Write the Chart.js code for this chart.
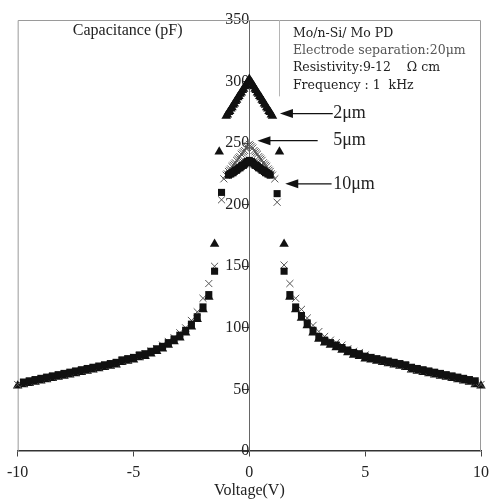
<!DOCTYPE html>
<html><head><meta charset="utf-8">
<script src="https://cdn.jsdelivr.net/npm/chart.js@4.4.0/dist/chart.umd.min.js"></script>
<style>html,body{margin:0;padding:0;background:#fff}</style>
</head><body>
<canvas id="c" width="496" height="502" style="width:496px;height:502px;display:block"></canvas>
<script>
// Voltage grid (V)
const voltage = [
  -10, -9.75, -9.5, -9.25, -9, -8.75, -8.5, -8.25, -8, -7.75, -7.5, -7.25, -7, -6.75, -6.5, -6.25, -6, -5.75, -5.5, -5.25,
  -5, -4.75, -4.5, -4.25, -4, -3.75, -3.5, -3.25, -3, -2.75, -2.5, -2.25, -2, -1.75, -1.5,
  -1.3, -1.2, -1.1,
  -1.0, -0.95, -0.9, -0.85, -0.8, -0.75, -0.7, -0.65, -0.6, -0.55, -0.5, -0.45, -0.4, -0.35, -0.3, -0.25, -0.2, -0.15, -0.1, -0.05,
  0,
  0.05, 0.1, 0.15, 0.2, 0.25, 0.3, 0.35, 0.4, 0.45, 0.5, 0.55, 0.6, 0.65, 0.7, 0.75, 0.8, 0.85, 0.9, 0.95, 1.0,
  1.1, 1.2, 1.3,
  1.5, 1.75, 2, 2.25, 2.5, 2.75, 3, 3.25, 3.5, 3.75, 4, 4.25, 4.5, 4.75, 5, 5.25, 5.5, 5.75, 6, 6.25,
  6.5, 6.75, 7, 7.25, 7.5, 7.75, 8, 8.25, 8.5, 8.75, 9, 9.25, 9.5, 9.75, 10
];
// Capacitance (pF), 2 µm electrodes (triangles)
const cap2um = [
  53, 54, 55, 56, 57, 58, 59, 60, 61, 62, 63, 64, 65, 66, 67, 68, 69, 70, 72, 73,
  74, 76, 77, 79, 81, 83, 86, 89, 92, 96, 101, 107, 115, 125, 168,
  243, null, null,
  272, 273, 275, 276, 278, 279, 281, 282, 284, 285, 287, 288, 290, 291, 293, 294, 296, 297, 299, 300,
  302,
  300, 299, 297, 296, 294, 293, 291, 290, 288, 287, 285, 284, 282, 281, 279, 278, 276, 275, 273, 272,
  null, null, 243,
  168, 125, 115, 108, 102, 96, 91, 88, 86, 84, 82, 80, 78, 77, 75, 74, 73, 72, 71, 70,
  69, 68, 66, 65, 64, 63, 62, 61, 60, 59, 58, 57, 56, 54, 53
];
// Capacitance (pF), 5 µm electrodes (crosses)
const cap5um = [
  54, 55, 56, 57, 58, 59, 60, 61, 62, 63, 64, 65, 66, 67, 68, 69, 70, 71, 73, 74,
  76, 77, 79, 81, 83, 86, 89, 92, 96, 100, 106, 113, 124, 136, 150,
  null, 204, 221,
  224, 225, 227, 228, 229, 231, 232, 233, 234, 236, 237, 238, 239, 241, 242, 243, 244, 246, 247, 248,
  249,
  248, 247, 246, 244, 243, 242, 241, 239, 238, 237, 236, 234, 233, 232, 231, 229, 228, 227, 225, 224,
  221, 202, null,
  151, 136, 124, 115, 108, 102, 97, 93, 90, 88, 86, 83, 81, 80, 78, 76, 75, 73, 72, 71,
  70, 69, 67, 66, 65, 64, 63, 62, 61, 60, 59, 58, 57, 55, 54
];
// Capacitance (pF), 10 µm electrodes (squares)
const cap10um = [
  null, 56, 57, 58, 59, 60, 61, 62, 63, 64, 65, 66, 67, 68, 69, 70, 71, 72, 74, 75,
  76, 78, 79, 81, 83, 85, 88, 91, 94, 98, 103, 109, 117, 127, 146,
  null, 210, null,
  null, null, 224, 225, 225, 226, 226, 227, 228, 228, 229, 230, 230, 231, 232, 232, 233, 234, 235, 235,
  236,
  235, 235, 234, 233, 232, 232, 231, 230, 230, 229, 228, 228, 227, 226, 226, 225, 225, 224, null, null,
  null, 209, null,
  146, 127, 117, 110, 104, 98, 93, 90, 88, 86, 84, 82, 80, 79, 77, 76, 75, 74, 73, 72,
  71, 70, 68, 67, 66, 65, 64, 63, 62, 61, 60, 59, 58, 57, null
];
const xTicks = [-10, -5, 0, 5, 10];
const yTicks = [0, 50, 100, 150, 200, 250, 300, 350];
const seriesLabels = ['2\u03bcm', '5\u03bcm', '10\u03bcm'];
const infoLines = ['Mo/n-Si/ Mo PD', 'Electrode separation:20\u03bcm', 'Resistivity:9-12    \u03a9 cm', 'Frequency : 1  kHz'];

function pts(arr) {
  const out = [];
  arr.forEach((v, i) => { if (v !== null) out.push({ x: voltage[i], y: v }); });
  return out;
}

const SERIF = "'Liberation Serif', 'Times New Roman', serif";

const decor = {
  id: 'decor',
  beforeDatasetsDraw(chart) {
    const { ctx, chartArea: a } = chart;
    ctx.save();
    ctx.strokeStyle = '#9a9a9a';
    ctx.lineWidth = 1;
    ctx.beginPath();
    ctx.moveTo(a.left + 0.5, a.bottom);
    ctx.lineTo(a.left + 0.5, a.top + 0.5);
    ctx.lineTo(a.right - 0.5, a.top + 0.5);
    ctx.lineTo(a.right - 0.5, a.bottom);
    ctx.stroke();
    const xs = chart.scales.x, ys = chart.scales.y;
    const bx = Math.round(xs.getPixelForValue(1.29)) + 0.5;
    ctx.strokeStyle = '#b5b5b5';
    ctx.beginPath();
    ctx.moveTo(bx, a.top);
    ctx.lineTo(bx, ys.getPixelForValue(288));
    ctx.stroke();
    ctx.restore();
  },
  afterDatasetsDraw(chart) {
    const { ctx } = chart;
    const xs = chart.scales.x, ys = chart.scales.y;
    ctx.save();
    ctx.fillStyle = '#222';
    ctx.textBaseline = 'middle';
    ctx.textAlign = 'center';
    ctx.font = "16px " + SERIF;
    ctx.fillText('Capacitance (pF)', xs.getPixelForValue(-5.25), ys.getPixelForValue(341));
    ctx.textAlign = 'left';
    ctx.font = "12.5px 'DejaVu Serif', serif";
    const infoY = [339, 325, 311, 297];
    infoLines.forEach((t, i) => {
      ctx.fillStyle = i === 1 ? '#555' : '#222';
      ctx.fillText(t, xs.getPixelForValue(1.88), ys.getPixelForValue(infoY[i]));
    });
    const arrows = [
      { tip: 1.32, tail: 3.6, c: 274 },
      { tip: 0.35, tail: 2.95, c: 252 },
      { tip: 1.55, tail: 3.55, c: 217 }
    ];
    ctx.strokeStyle = '#111';
    ctx.lineWidth = 1.2;
    arrows.forEach((ar, i) => {
      const y = ys.getPixelForValue(ar.c);
      const x0 = xs.getPixelForValue(ar.tip), x1 = xs.getPixelForValue(ar.tail);
      ctx.beginPath();
      ctx.moveTo(x0 + 10, y); ctx.lineTo(x1, y); ctx.stroke();
      ctx.fillStyle = '#111';
      ctx.beginPath();
      ctx.moveTo(x0, y); ctx.lineTo(x0 + 13, y - 4.5); ctx.lineTo(x0 + 13, y + 4.5); ctx.closePath(); ctx.fill();
      ctx.font = "18px " + SERIF;
      ctx.fillStyle = '#222';
      ctx.fillText(seriesLabels[i], xs.getPixelForValue(3.62), y);
    });
    ctx.restore();
  }
};

new Chart(document.getElementById('c'), {
  type: 'scatter',
  data: {
    datasets: [
      { label: seriesLabels[2], data: pts(cap10um), pointStyle: 'rect', pointRadius: 5, backgroundColor: '#111', borderColor: '#111', borderWidth: 0, clip: false },
      { label: seriesLabels[1], data: pts(cap5um), pointStyle: 'crossRot', pointRadius: 5, backgroundColor: '#555', borderColor: '#555', borderWidth: 1, clip: false },
      { label: seriesLabels[0], data: pts(cap2um), pointStyle: 'triangle', pointRadius: 5.5, backgroundColor: '#111', borderColor: '#111', borderWidth: 0, clip: false }
    ]
  },
  options: {
    responsive: false,
    devicePixelRatio: 1,
    animation: false,
    layout: { padding: { left: 16, right: 14, top: 20, bottom: 51 } },
    plugins: { legend: { display: false }, tooltip: { enabled: false } },
    scales: {
      x: {
        type: 'linear', min: -10, max: 10, position: { y: 0 },
        afterBuildTicks: s => { s.ticks = xTicks.map(v => ({ value: v })); },
        ticks: { font: { family: SERIF, size: 16 }, color: '#222', padding: 7, maxRotation: 0 },
        grid: { drawOnChartArea: false, drawTicks: true, tickLength: 5, color: '#444' },
        border: { color: '#333', width: 1.5 },
        title: { display: true, text: 'Voltage(V)', font: { family: SERIF, size: 16 }, color: '#222', padding: { top: -8, bottom: 0 } }
      },
      y: {
        type: 'linear', min: 0, max: 350, position: { x: 0 },
        afterBuildTicks: s => { s.ticks = yTicks.map(v => ({ value: v })); },
        ticks: { font: { family: SERIF, size: 16 }, color: '#222', padding: 3 },
        grid: { drawOnChartArea: false, drawTicks: true, tickLength: 6, color: '#444' },
        border: { color: '#666', width: 1 }
      }
    }
  },
  plugins: [decor]
});
</script>
</body></html>
